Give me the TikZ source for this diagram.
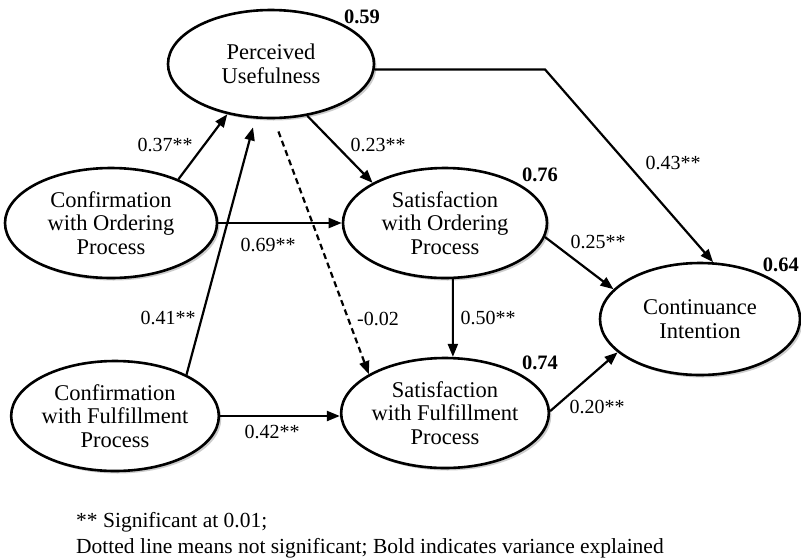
\documentclass[tikz,border=0pt]{standalone}
\usepackage{fontspec}
\setmainfont{Liberation Serif}
\usetikzlibrary{shapes.geometric,arrows.meta,shadows}
\begin{document}
\begin{tikzpicture}[x=1pt,y=-1pt,
  construct/.style={ellipse,draw=black,line width=2.6pt,fill=white,align=center,inner sep=0pt,
    font=\fontsize{22.5}{23.5}\selectfont,
    drop shadow={shadow xshift=2.5pt,shadow yshift=-2.5pt,fill=black!40}},
  path/.style={line width=2.2pt,-{Triangle[length=13pt,width=10pt]}},
  ns/.style={path,dash pattern=on 6pt off 4pt},
  coef/.style={font=\fontsize{20}{22}\selectfont,inner sep=0pt},
  rsq/.style={font=\fontsize{20.5}{22}\selectfont\bfseries,inner sep=0pt},
  note/.style={font=\fontsize{21.5}{24}\selectfont,inner sep=0pt,anchor=base west}]
\useasboundingbox (0,0) rectangle (801,558);

\node[construct,minimum width=206pt,minimum height=108pt] (PU) at (271,64) {Perceived\\Usefulness};
\node[construct,minimum width=212pt,minimum height=110pt] (COP) at (111,223) {Confirmation\\with Ordering\\Process};
\node[construct,minimum width=206pt,minimum height=110pt] (CFP) at (115,416) {Confirmation\\with Fulfillment\\Process};
\node[construct,minimum width=204pt,minimum height=110pt] (SOP) at (445,223) {Satisfaction\\with Ordering\\Process};
\node[construct,minimum width=204pt,minimum height=110pt] (SFP) at (445,413) {Satisfaction\\with Fulfillment\\Process};
\node[construct,minimum width=200pt,minimum height=112pt] (CI) at (700,319) {Continuance\\Intention};

\coordinate (bend) at (545,0);

\draw[path] (COP.33) -- (PU.-131);
\draw[path,shorten >=9pt] (CFP.30) -- (PU.-106);
\draw[path] (PU.-55) -- (SOP.151);
\draw[ns,shorten <=13pt] (PU.-87) -- (SFP.153);
\draw[path] (COP.east) -- (SOP.west |- COP.east);
\draw[path] (CFP.east) -- (SFP.west |- CFP.east);
\draw[path] (SOP.-82) -- (SFP.82);
\draw[path] (SOP.-8) -- (CI.161);
\draw[path] (SFP.1) -- (CI.-158);
\draw[path] (PU.-3) -- (PU.-3 -| bend) -- (CI.77);

\node[rsq] (r1) at (362,17) {0.59};
\node[rsq] (r2) at (540,175) {0.76};
\node[rsq] (r3) at (540,363) {0.74};
\node[rsq,anchor=east] (r4) at (799,265) {0.64};

\node[coef] (c1) at (165,145) {0.37**};
\node[coef] (c2) at (378,145) {0.23**};
\node[coef] (c3) at (268,245) {0.69**};
\node[coef] (c4) at (673,163) {0.43**};
\node[coef] (c5) at (598,242) {0.25**};
\node[coef] (c6) at (168,318) {0.41**};
\node[coef] (c7) at (378,319) {-0.02};
\node[coef] (c8) at (488,318) {0.50**};
\node[coef] (c9) at (597,407) {0.20**};
\node[coef] (c10) at (272,432) {0.42**};

\node[note] (n1) at (76,527) {** Significant at 0.01;};
\node[note] (n2) at (76,553) {Dotted line means not significant; Bold indicates variance explained};
\end{tikzpicture}
\end{document}
